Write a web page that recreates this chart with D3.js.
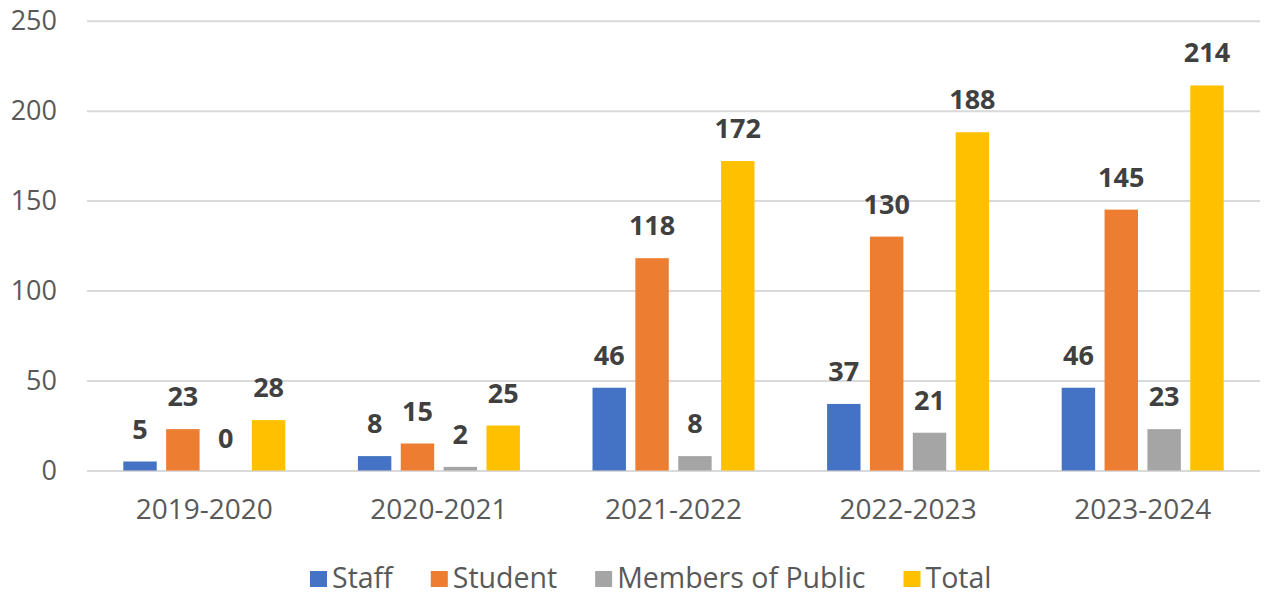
<!DOCTYPE html>
<html>
<head>
<meta charset="utf-8">
<script src="https://cdn.jsdelivr.net/npm/d3@7"></script>
<style>
  html, body { margin: 0; padding: 0; background: #fff; }
  svg { display: block; }
</style>
</head>
<body>
<svg id="chart" width="1265" height="597"></svg>
<script>
// Incident counts by academic year and group
const years = ["2019-2020", "2020-2021", "2021-2022", "2022-2023", "2023-2024"];
const seriesNames = ["Staff", "Student", "Members of Public", "Total"];
const staff = [5, 8, 46, 37, 46];
const student = [23, 15, 118, 130, 145];
const publicMembers = [0, 2, 8, 21, 23];
const total = [28, 25, 172, 188, 214];
const yTicks = [0, 50, 100, 150, 200, 250];
const colors = ["#4472C4", "#ED7D31", "#A5A5A5", "#FFC000"];

const seriesValues = [staff, student, publicMembers, total];

const svg = d3.select("#chart");
const plot = { left: 87, right: 1260, top: 20.7, bottom: 470.5 };
const font = "'Open Sans', sans-serif";

const x0 = d3.scaleBand().domain(years).range([plot.left, plot.right]).padding(0);
const groupWidth = 162;
const x1 = d3.scaleBand()
  .domain(seriesNames)
  .range([(x0.bandwidth() - groupWidth) / 2, (x0.bandwidth() + groupWidth) / 2])
  .paddingInner(0.22)
  .paddingOuter(0);
const y = d3.scaleLinear().domain([0, 250]).range([plot.bottom, plot.top]);

// Gridlines and value axis labels
const yAxis = d3.axisLeft(y)
  .tickValues(yTicks)
  .tickSize(-(plot.right - plot.left))
  .tickPadding(30)
  .tickFormat(d3.format("d"));
const gy = svg.append("g").attr("transform", `translate(${plot.left},0)`).call(yAxis);
gy.select(".domain").remove();
gy.selectAll(".tick line").attr("stroke", "#D9D9D9").attr("stroke-width", 2);
gy.selectAll(".tick text")
  .attr("fill", "#595959")
  .style("font-family", font)
  .style("font-size", "27px")
  .attr("dy", "0.34em");

// Category axis labels
const xAxis = d3.axisBottom(x0).tickSize(0).tickPadding(29);
const gx = svg.append("g").attr("transform", `translate(0,${plot.bottom})`).call(xAxis);
gx.select(".domain").remove();
gx.selectAll(".tick text")
  .attr("fill", "#595959")
  .style("font-family", font)
  .style("font-size", "28px");

// Bars and value labels
const rows = years.map((yr, i) => ({
  year: yr,
  items: seriesNames.map((s, k) => ({ key: s, value: seriesValues[k][i], color: colors[k] }))
}));

const groups = svg.append("g").selectAll("g")
  .data(rows)
  .join("g")
  .attr("transform", d => `translate(${x0(d.year)},0)`);

groups.selectAll("rect")
  .data(d => d.items)
  .join("rect")
  .attr("x", d => x1(d.key))
  .attr("width", x1.bandwidth())
  .attr("y", d => y(d.value))
  .attr("height", d => y(0) - y(d.value))
  .attr("fill", d => d.color);

groups.selectAll("text.val")
  .data(d => d.items)
  .join("text")
  .attr("class", "val")
  .attr("x", d => x1(d.key) + x1.bandwidth() / 2)
  .attr("y", d => y(d.value) - 23)
  .attr("text-anchor", "middle")
  .attr("fill", "#404040")
  .style("font-family", font)
  .style("font-weight", "700")
  .style("font-size", "27px")
  .text(d => d.value);

// Legend: swatch + label, laid out left to right from measured text widths
const legend = svg.append("g").attr("transform", "translate(310,571)");
let cursor = 0;
seriesNames.forEach((name, k) => {
  const item = legend.append("g").attr("transform", `translate(${cursor},0)`);
  item.append("rect").attr("width", 17).attr("height", 16).attr("fill", colors[k]);
  const t = item.append("text")
    .attr("x", 22)
    .attr("y", 17)
    .attr("fill", "#595959")
    .style("font-family", font)
    .style("font-size", "28.5px")
    .text(name);
  cursor += 22 + t.node().getComputedTextLength() + 38;
});
</script>
</body>
</html>
